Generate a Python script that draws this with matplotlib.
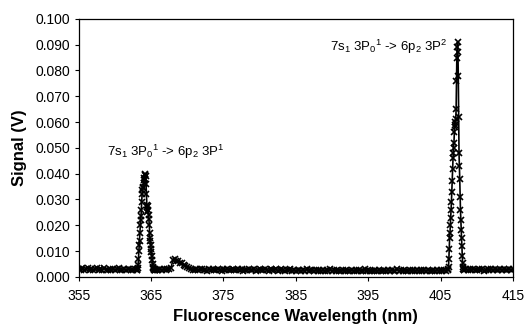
import numpy as np
import matplotlib
matplotlib.use("Agg")
import matplotlib.pyplot as plt

plt.rcParams["font.family"] = ["Liberation Sans", "DejaVu Sans"]
plt.rcParams["mathtext.fontset"] = "custom"
plt.rcParams["mathtext.rm"] = "Liberation Sans"
plt.rcParams["mathtext.it"] = "Liberation Sans"

# scan segments: (start nm, end nm, signal in V), evenly spaced inside each segment
base_a = [0.0032, 0.0027, 0.0033, 0.0026, 0.0030, 0.0034, 0.0027, 0.0031, 0.0025, 0.0029,
          0.0033, 0.0026, 0.0030, 0.0027, 0.0034, 0.0028, 0.0025, 0.0031, 0.0027, 0.0032,
          0.0026, 0.0029, 0.0033, 0.0027, 0.0025, 0.0031, 0.0026, 0.0029, 0.0032, 0.0026,
          0.0027, 0.0030, 0.0026]

peak_1 = [0.0027, 0.0030, 0.0034, 0.0045, 0.0070, 0.0100, 0.0125, 0.0140, 0.0170, 0.0200,
          0.0220, 0.0235, 0.0260, 0.0290, 0.0320, 0.0335, 0.0350, 0.0345, 0.0365, 0.0375,
          0.0385, 0.0380, 0.0395, 0.0400, 0.0390, 0.0360, 0.0320, 0.0280, 0.0250, 0.0270,
          0.0275, 0.0260, 0.0240, 0.0225, 0.0200, 0.0170, 0.0150, 0.0140, 0.0125, 0.0110,
          0.0095, 0.0080, 0.0065, 0.0050, 0.0040, 0.0033, 0.0029, 0.0027, 0.0030, 0.0026,
          0.0028, 0.0027]

base_b = [0.0028, 0.0025, 0.0030, 0.0026, 0.0029, 0.0027, 0.0031, 0.0029, 0.0035]

bump = [0.0065, 0.0070, 0.0060, 0.0062, 0.0055, 0.0052, 0.0048, 0.0042, 0.0038, 0.0033,
        0.0029, 0.0027]

base_c = [0.0026, 0.0030, 0.0025, 0.0029, 0.0031, 0.0026, 0.0027, 0.0024, 0.0030, 0.0026,
          0.0029, 0.0025, 0.0027, 0.0031, 0.0026, 0.0024, 0.0029, 0.0026, 0.0030, 0.0025,
          0.0027, 0.0032, 0.0026, 0.0025, 0.0029, 0.0026, 0.0030, 0.0024, 0.0027, 0.0026,
          0.0031, 0.0025, 0.0027, 0.0029, 0.0024, 0.0026, 0.0030, 0.0025, 0.0027, 0.0031,
          0.0026, 0.0024, 0.0029, 0.0025, 0.0027, 0.0030, 0.0024, 0.0026, 0.0029, 0.0025,
          0.0023, 0.0028, 0.0025, 0.0029, 0.0024, 0.0026, 0.0022, 0.0028, 0.0025, 0.0023,
          0.0026, 0.0024, 0.0029, 0.0023, 0.0025, 0.0028, 0.0022, 0.0026, 0.0024, 0.0028,
          0.0023, 0.0026, 0.0021, 0.0027, 0.0024, 0.0029, 0.0022, 0.0025, 0.0023, 0.0027,
          0.0024, 0.0021, 0.0026, 0.0023, 0.0028, 0.0022, 0.0024, 0.0027, 0.0021, 0.0025,
          0.0023, 0.0027, 0.0022, 0.0024, 0.0031, 0.0023, 0.0026, 0.0021, 0.0024, 0.0022,
          0.0027, 0.0023, 0.0025, 0.0021, 0.0024, 0.0028, 0.0022, 0.0026, 0.0023, 0.0027,
          0.0022, 0.0024, 0.0029, 0.0023, 0.0025, 0.0022, 0.0027, 0.0024, 0.0021, 0.0026,
          0.0023, 0.0028, 0.0022, 0.0025, 0.0024, 0.0027, 0.0023, 0.0026, 0.0022, 0.0027,
          0.0024, 0.0023, 0.0027, 0.0022, 0.0026, 0.0024, 0.0028, 0.0023, 0.0025, 0.0024,
          0.0026]

peak_2 = [0.0030, 0.0040, 0.0070, 0.0110, 0.0150, 0.0170, 0.0200, 0.0230, 0.0260, 0.0290,
          0.0330, 0.0370, 0.0420, 0.0460, 0.0480, 0.0500, 0.0520, 0.0560, 0.0590, 0.0600,
          0.0580, 0.0610, 0.0650, 0.0760, 0.0850, 0.0890, 0.0910, 0.0870, 0.0780, 0.0620,
          0.0480, 0.0430, 0.0380, 0.0310, 0.0260, 0.0220, 0.0180, 0.0150, 0.0120, 0.0080,
          0.0055, 0.0040, 0.0030, 0.0027]

base_d = [0.0026, 0.0030, 0.0025, 0.0029, 0.0026, 0.0031, 0.0027, 0.0025, 0.0029, 0.0026,
          0.0030, 0.0024, 0.0027, 0.0029, 0.0025, 0.0030, 0.0026, 0.0029, 0.0025, 0.0027,
          0.0031, 0.0026, 0.0029, 0.0025, 0.0027, 0.0030, 0.0026, 0.0029]

segments = [
    (355.00, 363.00, base_a),
    (363.05, 365.60, peak_1),
    (365.75, 367.75, base_b),
    (368.00, 370.75, bump),
    (371.00, 406.00, base_c),
    (406.05, 408.20, peak_2),
    (408.25, 415.00, base_d),
]

x_ticks = [355, 365, 375, 385, 395, 405, 415]
y_ticks = [0.000, 0.010, 0.020, 0.030, 0.040, 0.050, 0.060, 0.070, 0.080, 0.090, 0.100]

label_1 = "7s$_1$ 3P$_0$$^1$ -> 6p$_2$ 3P$^1$"
label_2 = "7s$_1$ 3P$_0$$^1$ -> 6p$_2$ 3P$^2$"

wl = np.concatenate([np.linspace(a, b, len(v)) for a, b, v in segments])
sig = np.concatenate([v for _, _, v in segments])

fig = plt.figure(figsize=(5.25, 3.25), dpi=100)
ax = fig.add_axes([0.150, 0.148, 0.827, 0.794])

ax.plot(wl, sig, color="black", lw=1.2, marker="x", ms=3.8, mew=1.2)

ax.set_xlim(355, 415)
ax.set_ylim(0, 0.1)
ax.set_xticks(x_ticks)
ax.set_yticks(y_ticks)
ax.set_yticklabels([f"{t:.3f}" for t in y_ticks])
ax.tick_params(direction="out", length=3, width=0.8, labelsize=10, colors="black")
ax.tick_params(axis="x", pad=6)
ax.tick_params(axis="y", pad=3)

for s in ax.spines.values():
    s.set_linewidth(0.9)
    s.set_color("black")

ax.set_xlabel("Fluorescence Wavelength (nm)", fontsize=12, fontweight="bold", labelpad=4)
ax.set_ylabel("Signal (V)", fontsize=12, fontweight="bold", labelpad=6)

ax.text(358.9, 0.0483, label_1, fontsize=9.5, va="center", ha="left")
ax.text(389.7, 0.0890, label_2, fontsize=9.5, va="center", ha="left")

fig.savefig("out.png", dpi=100)
